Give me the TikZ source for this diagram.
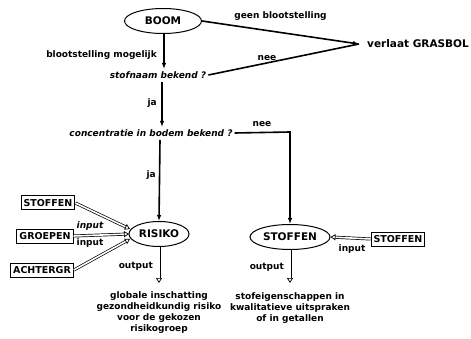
\documentclass[tikz,border=0pt]{standalone}
\usepackage{fontspec}
\setmainfont{DejaVu Sans}
\usetikzlibrary{arrows.meta,shapes.geometric}
\begin{document}
\begin{tikzpicture}[x=1pt,y=-1pt,
  every node/.style={inner sep=0pt},
  lbl/.style={font=\bfseries\fontsize{9}{11}\selectfont},
  ilbl/.style={font=\bfseries\itshape\fontsize{9}{11}\selectfont},
  big/.style={font=\bfseries\fontsize{10.5}{12}\selectfont},
  ell/.style={draw, ellipse, line width=1pt, minimum height=25pt, big},
  box/.style={draw, line width=1pt, minimum height=14pt, inner xsep=2.5pt, font=\bfseries\fontsize{9.5}{11}\selectfont},
  arr/.style={line width=1.6pt, -{Latex[length=6pt,width=4.5pt]}},
  plain/.style={line width=1.6pt},
  dbl/.style={line width=0.7pt, double=white, double distance=1.6pt, -{Triangle[open,length=5pt,width=6pt]}},
  txt/.style={font=\bfseries\fontsize{9}{11}\selectfont, align=center, anchor=north}]
\useasboundingbox[fill=white] (0,0) rectangle (471,339);

% top part
\node[ell, minimum width=77pt] (boom) at (163,21) {BOOM};
\node[big, anchor=west] (gras) at (367,44) {verlaat GRASBOL};
\coordinate (gin) at (359,44);
\node[ilbl] (stof) at (158,75) {stofnaam bekend ?};
\node[ilbl] (conc) at (151,133) {concentratie in bodem bekend ?};

\draw[arr] (boom.east) -- node[lbl, above=11pt, pos=0.5] (lgeen) {geen blootstelling} (gin);
\draw[arr] (boom.south -| 164,0) -- (164,69) coordinate (a1);
\node[lbl, anchor=east] (lmog) at (157,55) {blootstelling mogelijk};
\draw[plain] ([xshift=2pt]stof.east) -- (gin);
\node[lbl] (lnee1) at (267,58) {nee};

\draw[arr] (162,82) -- (162,127);
\node[lbl, anchor=east] (lja1) at (157,103) {ja};

% lower part
\node[ell, minimum width=60pt] (risiko) at (159,234) {RISIKO};
\node[ell, minimum width=80pt] (stoffen) at (290,237) {STOFFEN};

\draw[arr] ([xshift=2pt]conc.east) -- (290,132) -- (stoffen.north);
\node[lbl] (lnee2) at (262,124) {nee};
\draw[arr] (160,140) -- (risiko.north);
\node[lbl, anchor=east] (lja2) at (156,175) {ja};

\node[box] (b1) at (48,203) {STOFFEN};
\node[box] (b2) at (45,236) {GROEPEN};
\node[box] (b3) at (42,270) {ACHTERGR};
\node[box] (b4) at (398,239) {STOFFEN};

\coordinate (r1) at (130,229);
\coordinate (r2) at (129,234);
\coordinate (r3) at (130,239);
\draw[dbl] (b1.east) -- (r1);
\draw[dbl] (b2.east) -- (r2);
\draw[dbl] (b3.east) -- (r3);
\node[ilbl] (in1) at (90,226) {input};
\node[lbl] (in2) at (90,243) {input};
\draw[dbl] (b4.west) -- (stoffen.east);
\node[lbl] (in3) at (352,249) {input};

\coordinate (o1) at (159,283);
\coordinate (o2) at (290,283);
\draw[dbl] (risiko.south) -- (o1);
\draw[dbl] (stoffen.south) -- (o2);
\node[lbl, anchor=east] (out1) at (153,266) {output};
\node[lbl, anchor=east] (out2) at (284,267) {output};

\node[txt] (t1) at (159,291) {globale inschatting\\gezondheidkundig risiko\\voor de gekozen\\risikogroep};
\node[txt] (t2) at (290,292) {stofeigenschappen in\\kwalitatieve uitspraken\\of in getallen};
\end{tikzpicture}
\end{document}
